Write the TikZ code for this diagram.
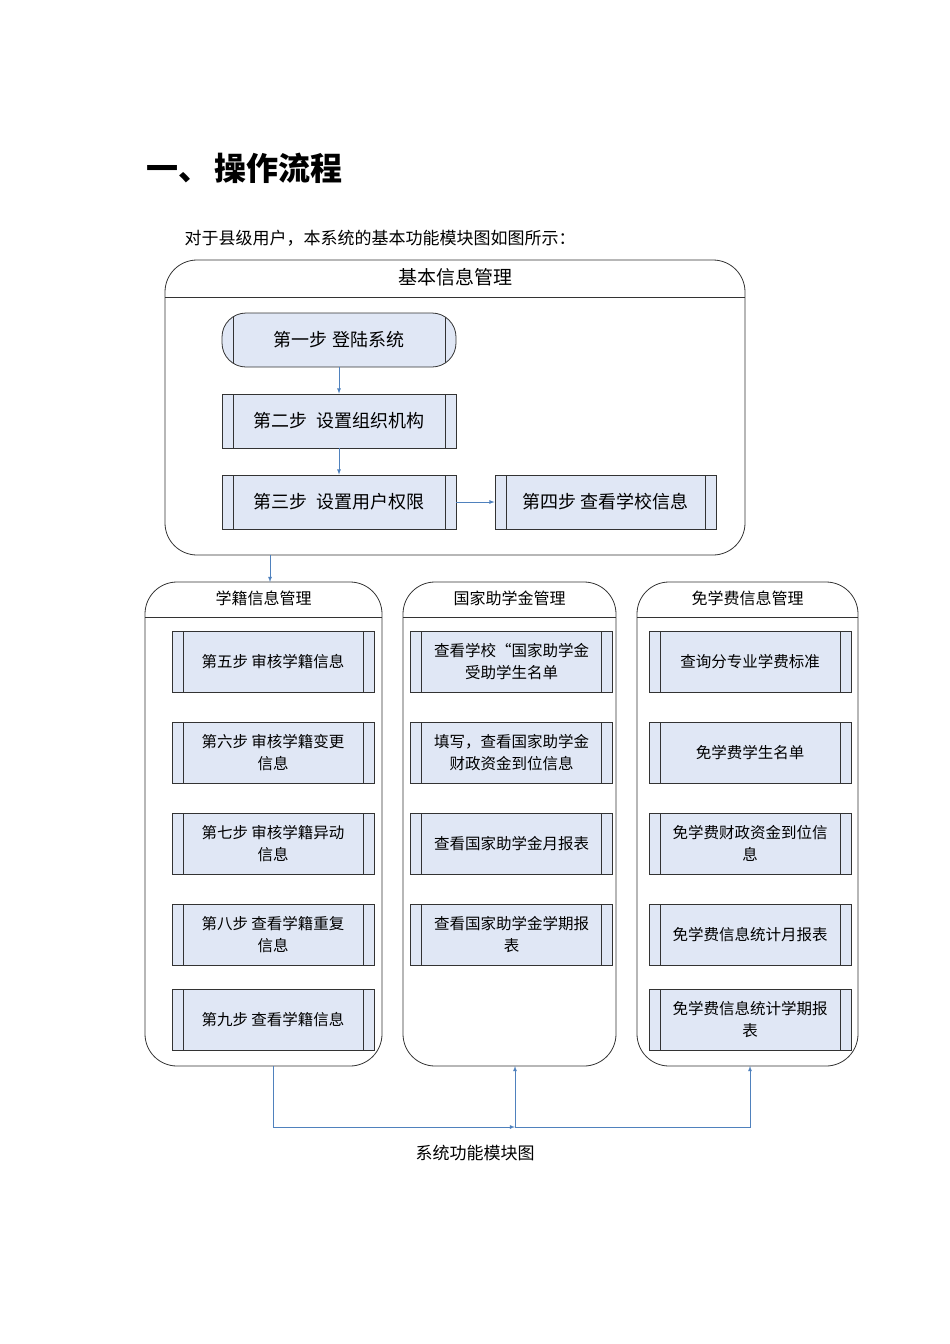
\documentclass[tikz,border=0pt]{standalone}
\usepackage{fontspec}
\setmainfont{Noto Sans CJK SC}
\usetikzlibrary{positioning}
\definecolor{boxfill}{RGB}{224,231,245}
\definecolor{flowblue}{RGB}{79,129,189}
\tikzset{
	stepbox/.style={draw=black!80, fill=boxfill, thick, minimum height=54pt,
		align=center, font=\fontsize{18}{22}\selectfont,
		path picture={
			\draw ([xshift=11pt]path picture bounding box.north west) -- ([xshift=11pt]path picture bounding box.south west);
			\draw ([xshift=-11pt]path picture bounding box.north east) -- ([xshift=-11pt]path picture bounding box.south east);}},
	item/.style={stepbox, minimum width=202pt, minimum height=61pt, font=\fontsize{15.5}{22}\selectfont},
	group/.style={draw=black!80, thick, rounded corners=32pt},
	head/.style={font=\fontsize{16}{18}\selectfont},
	flow/.style={draw=flowblue, thick, -latex}
}
\begin{document}
\begin{tikzpicture}[x=1pt, y=-1pt]
	\useasboundingbox (0,0) rectangle (950,1344);
	% Ueberschrift
	\node[anchor=west, font=\fontsize{32}{36}\selectfont\bfseries] (title) at (143,168) {一、\hspace{4pt}操作流程};
	\node[anchor=west, font=\fontsize{17}{20}\selectfont] (intro) at (181,238) {对于县级用户，本系统的基本功能模块图如图所示：};
	% Basis-Block
	\draw[group] (165,260) rectangle (745,555);
	\draw[thick, draw=black!80] (165,297) -- (745,297);
	\node[font=\fontsize{19}{22}\selectfont] (basic) at (455,277) {基本信息管理};
	\node[stepbox, minimum width=234pt, rounded corners=24pt] (s1) at (339,340) {第一步 登陆系统};
	\node[stepbox, minimum width=234pt] (s2) at (339,421) {第二步\ \ 设置组织机构};
	\node[stepbox, minimum width=234pt] (s3) at (339,502) {第三步\ \ 设置用户权限};
	\node[stepbox, minimum width=221pt] (s4) at (605.5,502) {第四步 查看学校信息};
	\draw[flow] (s1) -- (s2);
	\draw[flow] (s2) -- (s3);
	\draw[flow] (s3) -- (s4);
	% Spalten
	\draw[group] (145,582) rectangle (382,1066);
	\draw[group] (403,582) rectangle (616,1066);
	\draw[group] (637,582) rectangle (858,1066);
	\foreach \a/\b in {145/382, 403/616, 637/858}
		\draw[thick, draw=black!80] (\a,617) -- (\b,617);
	\node[head] (h1) at (263.5,598) {学籍信息管理};
	\node[head] (h2) at (509.5,598) {国家助学金管理};
	\node[head] (h3) at (747.5,598) {免学费信息管理};
	\coordinate (top) at (270,555);
	\coordinate (left) at (270,582);
	\draw[flow] (top) -- (left);
	% Schritte links
	\node[item] (a1) at (273,661.5) {第五步 审核学籍信息};
	\node[item] (a2) at (273,752.5) {第六步 审核学籍变更\\信息};
	\node[item] (a3) at (273,843.5) {第七步 审核学籍异动\\信息};
	\node[item] (a4) at (273,934.5) {第八步 查看学籍重复\\信息};
	\node[item] (a5) at (273,1019.5) {第九步 查看学籍信息};
	% Mitte
	\node[item] (b1) at (511.5,661.5) {查看学校“国家助学金\\受助学生名单};
	\node[item] (b2) at (511.5,752.5) {填写，查看国家助学金\\财政资金到位信息};
	\node[item] (b3) at (511.5,843.5) {查看国家助学金月报表};
	\node[item] (b4) at (511.5,934.5) {查看国家助学金学期报\\表};
	% rechts
	\node[item] (c1) at (750,661.5) {查询分专业学费标准};
	\node[item] (c2) at (750,752.5) {免学费学生名单};
	\node[item] (c3) at (750,843.5) {免学费财政资金到位信\\息};
	\node[item] (c4) at (750,934.5) {免学费信息统计月报表};
	\node[item] (c5) at (750,1019.5) {免学费信息统计学期报\\表};
	% Verbindungen unten
	\coordinate (lb) at (273,1066);
	\coordinate (mb) at (515,1066);
	\coordinate (rb) at (750,1066);
	\coordinate (jn) at (515,1127);
	\draw[flow] (lb) |- (jn);
	\draw[flow] (jn) -- (mb);
	\draw[flow] (jn) -| (rb);
	\node[font=\fontsize{17}{20}\selectfont] (caption) at (475,1153) {系统功能模块图};
\end{tikzpicture}
\end{document}
